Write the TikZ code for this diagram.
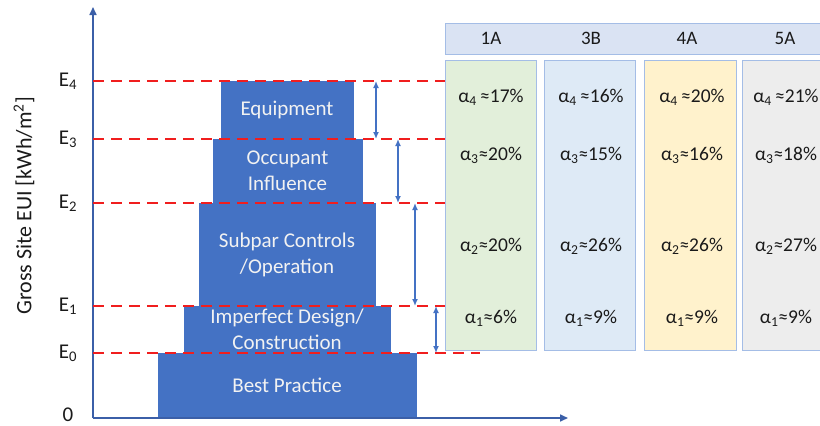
\documentclass[tikz,border=0pt]{standalone}
\usepackage{fontspec}
\setmainfont{Carlito}
\usetikzlibrary{arrows.meta}
\definecolor{barblue}{HTML}{4472C4}
\definecolor{axisblue}{HTML}{3B5FA8}
\definecolor{lvlred}{HTML}{F01E1E}
\definecolor{hdrfill}{HTML}{DAE3F3}
\definecolor{colborder}{HTML}{A4BDE6}
\definecolor{cgreen}{HTML}{E2EFDA}
\definecolor{cblue}{HTML}{DEEAF6}
\definecolor{cyellow}{HTML}{FFF2CC}
\definecolor{cgray}{HTML}{EDEDED}
\definecolor{txt}{HTML}{1A1A1A}
\definecolor{bartxt}{HTML}{F2F2F2}
\tikzset{
  bar/.style={fill=barblue, draw=barblue, inner sep=0pt, outer sep=0pt, text=bartxt,
    align=center, font=\fontsize{21}{26}\selectfont},
  lvl/.style={draw=lvlred, line width=2pt, dash pattern=on 11pt off 7pt},
  gap/.style={draw=barblue, line width=1.8pt, {Latex[length=7pt,width=6pt]}-{Latex[length=7pt,width=6pt]}},
  axis/.style={draw=axisblue, line width=1.6pt, -{Triangle[length=8pt,width=7pt]}},
  elab/.style={font=\fontsize{21}{24}\selectfont, text=txt},
  col/.style={draw=colborder, line width=0.9pt},
  hdr/.style={font=\fontsize{19}{22}\selectfont, text=txt},
  val/.style={font=\fontsize{19.5}{22}\selectfont, text=txt},
}
\begin{document}
\begin{tikzpicture}[x=1pt,y=-1pt]
\useasboundingbox (0,0) rectangle (820,426);
\clip (0,0) rectangle (820,426);

% columns and header
\draw[col, fill=hdrfill] (445,23) rectangle (830,54);
\node[hdr] (h1) at (491,38) {1A};
\node[hdr] (h2) at (591,38) {3B};
\node[hdr] (h3) at (687,38) {4A};
\node[hdr] (h4) at (785,38) {5A};

\draw[col, fill=cgreen] (445,60) rectangle (536,350);
\draw[col, fill=cblue] (544,60) rectangle (635,350);
\draw[col, fill=cyellow] (644,60) rectangle (736,350);
\draw[col, fill=cgray] (742,60) rectangle (830,350);

\foreach \cx/\a/\b/\c/\d [count=\i] in {491/17/20/20/6, 591/16/15/26/9, 692/20/16/26/9, 786/21/18/27/9}{
  \node[val] (a4\i) at (\cx,97) {α\textsubscript{4}\,≈\a\%};
  \node[val] (a3\i) at (\cx,155) {α\textsubscript{3}≈\b\%};
  \node[val] (a2\i) at (\cx,246) {α\textsubscript{2}≈\c\%};
  \node[val] (a1\i) at (\cx,318) {α\textsubscript{1}≈\d\%};
}

% bars
\node[bar, minimum width=258pt, minimum height=65pt] (bp) at (287,385.5) {Best Practice};
\node[bar, minimum width=206pt, minimum height=47pt] (idc) at (287,329.5) {Imperfect Design/\\Construction};
\node[bar, minimum width=176pt, minimum height=103pt] (sco) at (287,254.5) {Subpar Controls\\/Operation};
\node[bar, minimum width=149pt, minimum height=64pt] (oi) at (287.5,171) {Occupant\\Influence};
\node[bar, minimum width=132pt, minimum height=58pt] (eq) at (287,110) {Equipment};

% axes
\coordinate (orig) at (93,418);
\coordinate (ytop) at (93,7);
\coordinate (xend) at (568,418);
\draw[axis] (orig) -- (ytop);
\draw[axis] (orig) -- (xend);

% level lines
\foreach \n/\y/\xe in {4/81/445, 3/139/445, 2/203/445, 1/306/445, 0/353/480}{
  \coordinate (L\n) at (93,\y);
  \coordinate (R\n) at (\xe,\y);
  \draw[lvl] (L\n) -- (R\n);
  \node[elab] (E\n) at (68,\y) {E\textsubscript{\n}};
}
\node[elab] (zero) at (68,415) {0};

% gap arrows
\coordinate (g4t) at (376,81);  \coordinate (g4b) at (376,139);
\coordinate (g3t) at (398,139); \coordinate (g3b) at (398,203);
\coordinate (g2t) at (415,203); \coordinate (g2b) at (415,306);
\coordinate (g1t) at (436,306); \coordinate (g1b) at (436,353);
\draw[gap] (g4t) -- (g4b);
\draw[gap] (g3t) -- (g3b);
\draw[gap] (g2t) -- (g2b);
\draw[gap] (g1t) -- (g1b);

% y label
\node[rotate=90, font=\fontsize{22}{26}\selectfont, text=txt] (ylab) at (24,206) {Gross Site EUI [kWh/m\textsuperscript{2}]};
\end{tikzpicture}
\end{document}
